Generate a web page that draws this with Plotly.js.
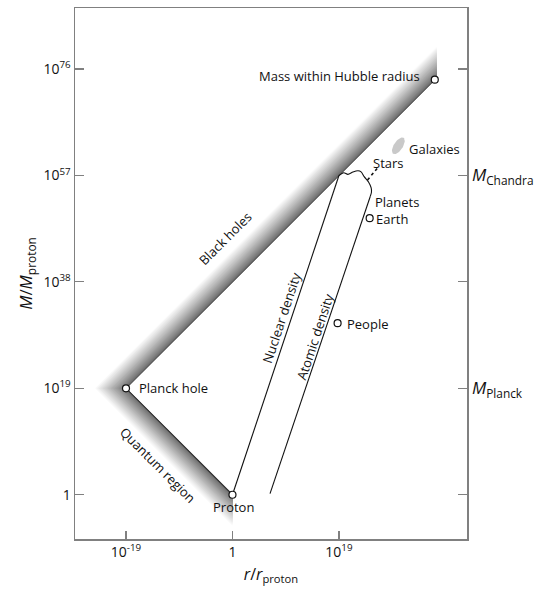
<!DOCTYPE html>
<html><head><meta charset="utf-8">
<script src="https://cdn.plot.ly/plotly-3.0.1.min.js"></script>
<style>html,body{margin:0;padding:0;background:#fff}#chart{width:540px;height:592px}</style>
</head><body><div id="chart"></div>
<script>
// All positions are log10 of r/r_proton (x) and M/M_proton (y)
const xTickVals = [1e-19, 1, 1e19];
const xTickText = ['10<sup>-19</sup>', '1', '10<sup>19</sup>'];
const yTickVals = [1, 1e19, 1e38, 1e57, 1e76];
const yTickText = ['1', '10<sup>19</sup>', '10<sup>38</sup>', '10<sup>57</sup>', '10<sup>76</sup>'];
const rightTickText = ['', '<i>M</i><sub>Planck</sub>', '', '<i>M</i><sub>Chandra</sub>', ''];

const pointNames = ['Planck hole', 'Proton', 'Mass within Hubble radius', 'Earth', 'People'];
const pointLogR = [-19, 0, 36.1, 24.48, 18.76];
const pointLogM = [19, 0, 74.1, 49.37, 30.63];

const blackHoleEndLogR = 36.45;   // right end of black-hole band
const quantumEndLogR = 0;         // right end of quantum band

const nuclearLogR = [0, 19];
const nuclearLogM = [0, 57];
const starsLogR = [19.0, 19.85, 20.6, 21.5, 22.4, 22.95, 23.5, 24.3, 24.75, 24.8, 24.6];
const starsLogM = [57.0, 57.5, 57.2, 57.62, 57.85, 57.65, 56.8, 55.8, 54.8, 54.0, 53.3];
const atomicLogR = [24.6, 6.7];
const atomicLogM = [53.3, 0.2];
const starsDotsLogR = [24.1, 26.1];
const starsDotsLogM = [56.2, 58.6];
const galaxyCenter = [29.6, 62.3];
const galaxyAxes = [1.7, 0.8];
const galaxyTiltDeg = 57;

const labels = [
  {t: 'Mass within Hubble radius', x: 33.8, y: 74.75, a: 'right', ang: 0},
  {t: 'Planck hole', x: -17.0, y: 19.1, a: 'left', ang: 0},
  {t: 'Proton', x: 0.2, y: -2.1, a: 'center', ang: 0},
  {t: 'Galaxies', x: 31.1, y: 61.67, a: 'left', ang: 0},
  {t: 'Stars', x: 24.66, y: 59.17, a: 'left', ang: 0},
  {t: 'Planets', x: 25.14, y: 52.3, a: 'left', ang: 0},
  {t: 'Earth', x: 25.2, y: 49.15, a: 'left', ang: 0},
  {t: 'People', x: 20.0, y: 30.5, a: 'left', ang: 0},
  {t: 'Black holes', x: -1.25, y: 45.85, a: 'center', ang: -45},
  {t: 'Quantum region', x: -13.3, y: 5.35, a: 'center', ang: 45},
  {t: 'Nuclear density', x: 8.7, y: 31.6, a: 'center', ang: -71.6},
  {t: 'Atomic density', x: 14.8, y: 28.3, a: 'center', ang: -71.6}
];

const P = v => Math.pow(10, v);
const traces = [];

// gradient bands (nested polygons, lightest & widest first)
const bandDepth = 5.7, steps = 40;
const pl = [pointLogR[0], pointLogM[0]];
const pr = [pointLogR[1], pointLogM[1]];
const bhOffset = pl[1] - pl[0];
for (let i = steps; i >= 1; i--) {
  const T = bandDepth * i / steps;
  const f = (i - 1) / (steps - 1);
  const g = Math.round(108 + (255 - 108) * Math.pow(f, 0.9));
  const col = `rgb(${g},${g},${g})`;
  const xs = [blackHoleEndLogR, pl[0], quantumEndLogR, quantumEndLogR, pl[0] - T, blackHoleEndLogR, blackHoleEndLogR];
  const ys = [blackHoleEndLogR + bhOffset, pl[1], -quantumEndLogR, -quantumEndLogR - T, pl[1], blackHoleEndLogR + bhOffset + T, blackHoleEndLogR + bhOffset];
  traces.push({x: xs.map(P), y: ys.map(P), mode: 'lines', fill: 'toself', fillcolor: col,
    line: {width: 0, color: col}, hoverinfo: 'skip', showlegend: false});
}

// galaxies ellipse
{
  const gx = [], gy = [], th = galaxyTiltDeg * Math.PI / 180;
  for (let k = 0; k <= 48; k++) {
    const a = 2 * Math.PI * k / 48;
    const u = galaxyAxes[0] * Math.cos(a), v = galaxyAxes[1] * Math.sin(a);
    gx.push(P(galaxyCenter[0] + u * Math.cos(th) - v * Math.sin(th)));
    gy.push(P(galaxyCenter[1] + u * Math.sin(th) + v * Math.cos(th)));
  }
  traces.push({x: gx, y: gy, mode: 'lines', fill: 'toself', fillcolor: '#c9c9c9', line: {width: 0}, hoverinfo: 'skip', showlegend: false});
}

// black hole edge and quantum edge
traces.push({x: [pl[0], pointLogR[2]].map(P), y: [pl[1], pointLogM[2]].map(P), mode: 'lines', line: {color: '#555', width: 1}, hoverinfo: 'skip', showlegend: false});
traces.push({x: [pl[0], pr[0]].map(P), y: [pl[1], pr[1]].map(P), mode: 'lines', line: {color: '#333', width: 1.1}, hoverinfo: 'skip', showlegend: false});

// density lines and stars
traces.push({x: nuclearLogR.map(P), y: nuclearLogM.map(P), mode: 'lines', line: {color: '#111', width: 1.1}, hoverinfo: 'skip', showlegend: false});
traces.push({x: starsLogR.map(P), y: starsLogM.map(P), mode: 'lines', line: {color: '#111', width: 1.1, shape: 'spline', smoothing: 0.8}, hoverinfo: 'skip', showlegend: false});
traces.push({x: atomicLogR.map(P), y: atomicLogM.map(P), mode: 'lines', line: {color: '#111', width: 1.1}, hoverinfo: 'skip', showlegend: false});
traces.push({x: starsDotsLogR.map(P), y: starsDotsLogM.map(P), mode: 'lines', line: {color: '#111', width: 1.6, dash: 'dot'}, hoverinfo: 'skip', showlegend: false});

// points
traces.push({x: pointLogR.map(P), y: pointLogM.map(P), text: pointNames, mode: 'markers',
  marker: {symbol: 'circle', size: 7, color: '#fff', line: {color: '#111', width: 1.2}}, hoverinfo: 'text', showlegend: false});

// dummy for right axis
traces.push({x: [1], y: [1], yaxis: 'y2', mode: 'markers', marker: {opacity: 0}, hoverinfo: 'skip', showlegend: false});

const font = {family: 'Open Sans, Noto Sans, sans-serif', size: 13, color: '#111'};
const tickFont = {family: font.family, size: 14, color: '#111'};
const axCol = '#808080';

const annotations = labels.map(l => ({
  x: l.x, y: l.y, xref: 'x', yref: 'y', text: l.t, showarrow: false,
  xanchor: l.a, yanchor: 'middle', textangle: l.ang, font: font
}));

const layout = {
  width: 540, height: 592,
  margin: {l: 75, r: 73, t: 8, b: 53, pad: 0},
  paper_bgcolor: '#fff', plot_bgcolor: '#fff',
  font: font,
  showlegend: false,
  xaxis: {type: 'log', range: [-28.1, 41.85], tickmode: 'array', tickvals: xTickVals, ticktext: xTickText,
    ticks: 'inside', ticklen: 8, tickcolor: axCol, tickwidth: 1.2, showline: true, linecolor: axCol, linewidth: 1.5,
    mirror: true, showgrid: false, zeroline: false, tickfont: tickFont,
    title: {text: '<i>r</i>/<i>r</i><sub>proton</sub>', font: {family: font.family, size: 16, color: '#111'}, standoff: 8}},
  yaxis: {type: 'log', range: [-7.9, 86.9], tickmode: 'array', tickvals: yTickVals, ticktext: yTickText,
    ticks: 'inside', ticklen: 9, tickcolor: axCol, tickwidth: 1.2, showline: true, linecolor: axCol, linewidth: 1.5,
    showgrid: false, zeroline: false, tickfont: tickFont,
    title: {text: '<i>M</i>/<i>M</i><sub>proton</sub>', font: {family: font.family, size: 17, color: '#111'}, standoff: 6}},
  yaxis2: {type: 'log', overlaying: 'y', side: 'right', range: [-7.9, 86.9], tickmode: 'array', tickvals: yTickVals, ticktext: rightTickText,
    ticks: 'inside', ticklen: 9, tickcolor: axCol, tickwidth: 1.2, showline: true, linecolor: axCol, linewidth: 1.5,
    showgrid: false, zeroline: false, tickfont: {family: font.family, size: 17, color: '#111'}},
  annotations: annotations
};

Plotly.newPlot('chart', traces, layout, {displayModeBar: false, staticPlot: true});
</script></body></html>
